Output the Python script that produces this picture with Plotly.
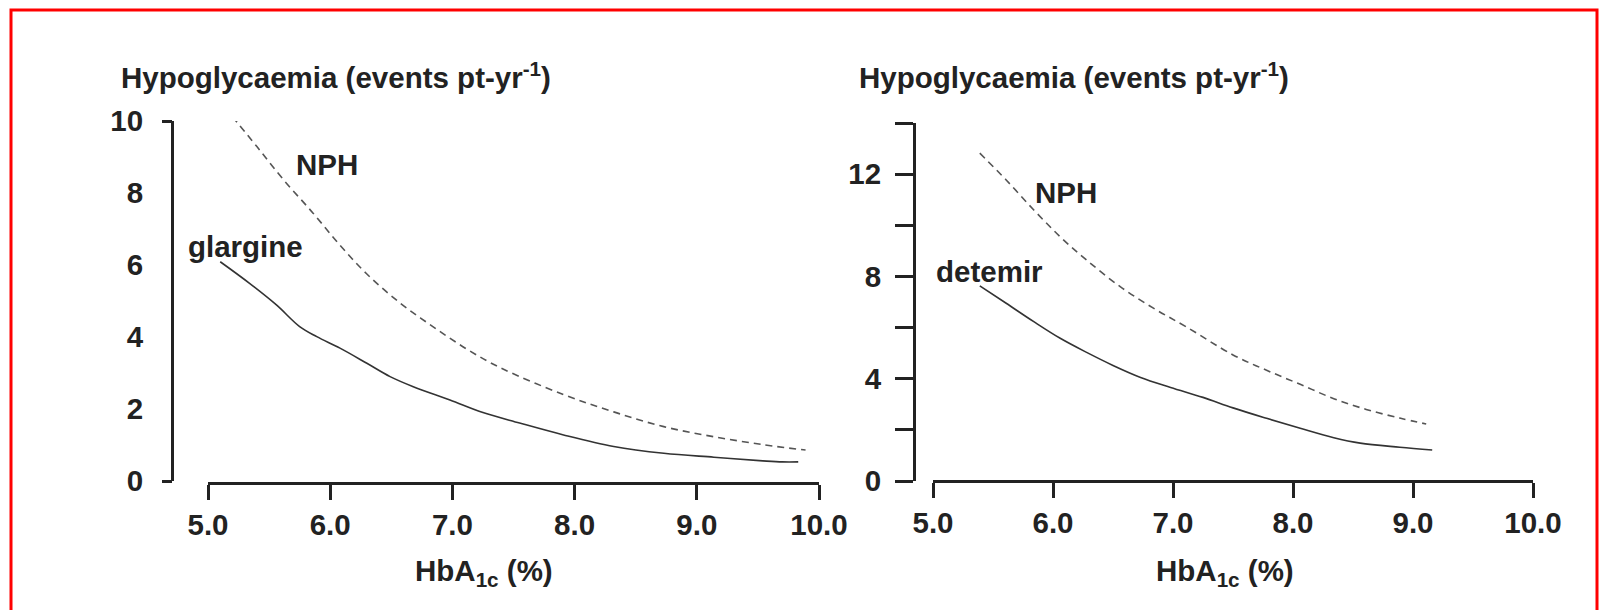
import plotly.graph_objects as go

W, H = 1608, 610

# Left panel: insulin glargine vs NPH
glargine_hba1c = [5.10, 5.34, 5.56, 5.75, 5.89, 6.08, 6.30, 6.49, 6.68, 6.98, 7.25, 7.55, 7.91, 8.32, 8.73, 9.14, 9.54, 9.70, 9.83]
glargine_rate = [6.09, 5.49, 4.89, 4.29, 4.01, 3.69, 3.27, 2.90, 2.62, 2.25, 1.90, 1.61, 1.28, 0.96, 0.77, 0.66, 0.56, 0.53, 0.53]
nph_left_hba1c = [5.20, 5.40, 5.62, 5.86, 6.08, 6.30, 6.57, 6.84, 7.12, 7.39, 7.91, 8.32, 8.73, 9.14, 9.54, 9.89]
nph_left_rate = [10.12, 9.29, 8.36, 7.44, 6.55, 5.75, 4.95, 4.29, 3.66, 3.15, 2.40, 1.92, 1.51, 1.23, 1.01, 0.86]

# Right panel: insulin detemir vs NPH
detemir_hba1c = [5.39, 5.61, 5.84, 6.06, 6.28, 6.50, 6.73, 6.98, 7.25, 7.50, 7.78, 8.06, 8.34, 8.56, 8.89, 9.16]
detemir_rate = [7.63, 6.95, 6.23, 5.58, 5.03, 4.52, 4.05, 3.66, 3.27, 2.86, 2.45, 2.06, 1.69, 1.48, 1.32, 1.21]
nph_right_hba1c = [5.39, 5.61, 5.84, 6.06, 6.28, 6.56, 6.84, 7.11, 7.50, 7.78, 8.06, 8.34, 8.61, 8.89, 9.11]
nph_right_rate = [12.82, 11.77, 10.60, 9.55, 8.64, 7.60, 6.75, 6.03, 4.93, 4.33, 3.78, 3.22, 2.80, 2.46, 2.23]

x_ticks = [5, 6, 7, 8, 9, 10]
left_y_ticks = [0, 2, 4, 6, 8, 10]
right_y_ticks = [0, 2, 4, 6, 8, 10, 12, 14]
right_y_text = ["0", "", "4", "", "8", "", "12", ""]

y_title = "Hypoglycaemia (events pt-yr<sup>-1</sup>)"
x_title = "HbA<sub>1c</sub> (%)"

FONT = "Liberation Sans, Arial, sans-serif"
INK = "#222222"
FS = 29.5


def px(v):
    return v / W


def py(v):
    return 1 - v / H


solid = dict(color="#333333", width=1.6)
dashed = dict(color="#555555", width=1.6, dash="7px,5px")

fig = go.Figure()
fig.add_trace(go.Scatter(x=nph_left_hba1c, y=nph_left_rate, mode="lines",
                         line=dict(shape="spline", smoothing=1.0, **dashed),
                         xaxis="x", yaxis="y", showlegend=False, hoverinfo="skip"))
fig.add_trace(go.Scatter(x=glargine_hba1c, y=glargine_rate, mode="lines",
                         line=dict(shape="spline", smoothing=1.0, **solid),
                         xaxis="x", yaxis="y3", showlegend=False, hoverinfo="skip"))
fig.add_trace(go.Scatter(x=nph_right_hba1c, y=nph_right_rate, mode="lines",
                         line=dict(shape="spline", smoothing=1.0, **dashed),
                         xaxis="x2", yaxis="y2", showlegend=False, hoverinfo="skip"))
fig.add_trace(go.Scatter(x=detemir_hba1c, y=detemir_rate, mode="lines",
                         line=dict(shape="spline", smoothing=1.0, **solid),
                         xaxis="x2", yaxis="y2", showlegend=False, hoverinfo="skip"))

tickfont = dict(family=FONT, size=FS, color=INK, weight="bold")
common_x = dict(range=[5, 10], tickvals=x_ticks, ticktext=[f"{v:.1f}" for v in x_ticks],
                ticks="outside", ticklen=15, tickwidth=3, tickcolor=INK,
                showline=True, linewidth=3, linecolor=INK, showgrid=False,
                zeroline=False, tickfont=tickfont, anchor="free", fixedrange=True,
                automargin=False)

fig.update_layout(
    template="none",
    width=W, height=H, autosize=False,
    margin=dict(l=0, r=0, t=0, b=0, pad=0),
    paper_bgcolor="white", plot_bgcolor="white",
    xaxis=dict(domain=[px(208), px(819)], position=py(483), **common_x),
    xaxis2=dict(domain=[px(933), px(1533)], position=py(481), **common_x),
    yaxis=dict(domain=[py(481), py(121)], range=[0, 10], anchor="free", position=px(172),
               tickvals=left_y_ticks, ticks="", ticklabelstandoff=22,
               showline=True, linewidth=3, linecolor=INK, showgrid=False,
               zeroline=False, tickfont=tickfont, fixedrange=True, automargin=False),
    yaxis3=dict(overlaying="y", range=[0, 10], anchor="free", position=px(172),
                tickvals=[0, 10], ticks="outside", ticklen=10, tickwidth=3, tickcolor=INK,
                showticklabels=False, showline=False, showgrid=False, zeroline=False,
                fixedrange=True, automargin=False),
    yaxis2=dict(domain=[py(481), py(123)], range=[0, 14], anchor="free", position=px(914),
                tickvals=right_y_ticks, ticktext=right_y_text,
                ticks="outside", ticklen=18, tickwidth=3, tickcolor=INK,
                ticklabelstandoff=8,
                showline=True, linewidth=3, linecolor=INK, showgrid=False,
                zeroline=False, tickfont=tickfont, fixedrange=True, automargin=False),
)

textfont = dict(family=FONT, size=FS, color=INK, weight="bold")
annotations = [
    dict(text=y_title, x=px(119), y=py(75), xref="paper", yref="paper",
         xanchor="left", yanchor="middle", showarrow=False, font=textfont),
    dict(text=y_title, x=px(857), y=py(75), xref="paper", yref="paper",
         xanchor="left", yanchor="middle", showarrow=False, font=textfont),
    dict(text=x_title, x=px(484), y=py(572), xref="paper", yref="paper",
         xanchor="center", yanchor="middle", showarrow=False, font=textfont),
    dict(text=x_title, x=px(1225), y=py(572), xref="paper", yref="paper",
         xanchor="center", yanchor="middle", showarrow=False, font=textfont),
    # curve labels, placed in data units
    dict(text="NPH", x=5.97, y=8.8, xref="x", yref="y",
         showarrow=False, font=textfont),
    dict(text="glargine", x=5.31, y=6.52, xref="x", yref="y",
         showarrow=False, font=textfont),
    dict(text="NPH", x=6.11, y=11.28, xref="x2", yref="y2",
         showarrow=False, font=textfont),
    dict(text="detemir", x=5.47, y=8.18, xref="x2", yref="y2",
         showarrow=False, font=textfont),
]
fig.update_layout(annotations=annotations)

# red frame around the figure
fig.add_shape(type="rect", xref="paper", yref="paper",
              x0=px(11), x1=px(1597), y0=-0.05, y1=py(10),
              line=dict(color="#ff0000", width=3), fillcolor="rgba(0,0,0,0)")

fig.write_html("out.html")
